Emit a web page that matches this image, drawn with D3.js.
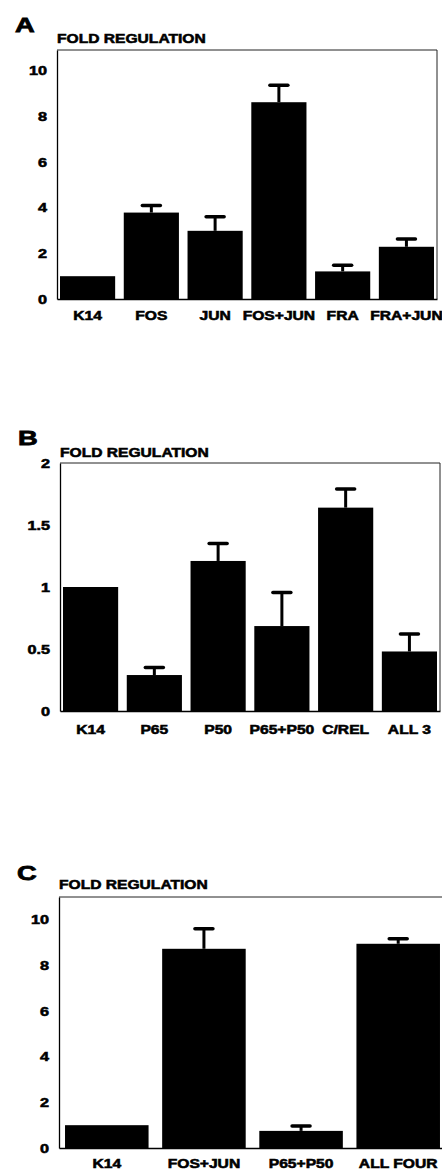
<!DOCTYPE html>
<html>
<head>
<meta charset="utf-8">
<script src="https://cdn.jsdelivr.net/npm/d3@7"></script>
<style>
  body { margin: 0; background: #fff; }
  text { font-family: "Liberation Sans", Arial, sans-serif; font-weight: bold; fill: #000;
         stroke: #000; stroke-width: 0.55px; }
</style>
</head>
<body>
<svg id="fig" width="442" height="1171"></svg>
<script>
/*---------- DATA ----------*/

// panel A: AP-1 factors
const catsA = ["K14", "FOS", "JUN", "FOS+JUN", "FRA", "FRA+JUN"];
const valsA = [1.0, 3.79, 2.99, 8.63, 1.21, 2.29];
const errA  = [0, 0.31, 0.62, 0.74, 0.27, 0.34];
const ticksA = [0, 2, 4, 6, 8, 10];

// panel B: NF-kB factors
const catsB = ["K14", "P65", "P50", "P65+P50", "C/REL", "ALL 3"];
const valsB = [1.0, 0.29, 1.21, 0.685, 1.64, 0.48];
const errB  = [0, 0.06, 0.14, 0.27, 0.15, 0.14];
const ticksB = [0, 0.5, 1, 1.5, 2];

// panel C: combinations
const catsC = ["K14", "FOS+JUN", "P65+P50", "ALL FOUR"];
const valsC = [1.0, 8.73, 0.75, 8.95];
const errC  = [0, 0.88, 0.21, 0.22];
const ticksC = [0, 2, 4, 6, 8, 10];

/*---------- LAYOUT ----------*/

const svg = d3.select("#fig");

const panels = [
  {letter: "A", cats: catsA, vals: valsA, errs: errA, ticks: ticksA, ymax: 10.92,
   left: 57, right: 437, top: 50, bottom: 299, pi: 0.135, po: 0.047,
   letterY: 32, titleY: 43, labelY: 320, frameRight: true},
  {letter: "B", cats: catsB, vals: valsB, errs: errB, ticks: ticksB, ymax: 2,
   left: 60, right: 440, top: 463, bottom: 711, pi: 0.135, po: 0.047,
   letterY: 445, titleY: 457, labelY: 734, frameRight: true},
  {letter: "C", cats: catsC, vals: valsC, errs: errC, ticks: ticksC, ymax: 11.0,
   left: 59, right: 446, top: 897, bottom: 1148, pi: 0.14, po: 0.062,
   letterY: 880, titleY: 889, labelY: 1168, frameRight: false}
];

//stretch text horizontally, the scanned font is much wider than Arial
function stretch(sel, k) {
  sel.each(function () {
    const w = this.getComputedTextLength();
    d3.select(this).attr("textLength", w * k).attr("lengthAdjust", "spacingAndGlyphs");
  });
}

function drawPanel(p) {
  const g = svg.append("g");

  const x = d3.scaleBand()
    .domain(p.cats)
    .range([p.left, p.right])
    .paddingInner(p.pi)
    .paddingOuter(p.po);

  const y = d3.scaleLinear()
    .domain([0, p.ymax])
    .range([p.bottom, p.top]);

  //panel letter + title
  g.append("text")
    .attr("x", p.left - 42)
    .attr("y", p.letterY)
    .style("font-size", "21px")
    .style("stroke-width", "0.8px")
    .text(p.letter)
    .call(stretch, 1.3);

  g.append("text")
    .attr("x", p.left)
    .attr("y", p.titleY)
    .style("font-size", "13px")
    .text("FOLD REGULATION")
    .call(stretch, 1.2);

  //frame (top + right)
  g.append("line")
    .attr("x1", p.left).attr("x2", p.right)
    .attr("y1", p.top).attr("y2", p.top)
    .attr("stroke", "#222").attr("stroke-width", 1);
  if (p.frameRight) {
    g.append("line")
      .attr("x1", p.right).attr("x2", p.right)
      .attr("y1", p.top).attr("y2", p.bottom)
      .attr("stroke", "#222").attr("stroke-width", 1);
  }

  //bars
  g.selectAll(".bar")
    .data(p.cats)
    .enter()
    .append("rect")
      .attr("class", "bar")
      .attr("x", d => x(d))
      .attr("width", x.bandwidth())
      .attr("y", (d, i) => y(p.vals[i]))
      .attr("height", (d, i) => p.bottom - y(p.vals[i]))
      .attr("fill", "#000");

  //error bars (upper only)
  const eb = g.selectAll(".err")
    .data(p.cats.filter((d, i) => p.errs[i] > 0))
    .enter()
    .append("g")
      .attr("class", "err");

  const idx = d => p.cats.indexOf(d);

  eb.append("line")
    .attr("x1", d => x(d) + x.bandwidth() / 2)
    .attr("x2", d => x(d) + x.bandwidth() / 2)
    .attr("y1", d => y(p.vals[idx(d)]))
    .attr("y2", d => y(p.vals[idx(d)] + p.errs[idx(d)]))
    .attr("stroke", "#000").attr("stroke-width", 3);

  eb.append("line")
    .attr("x1", d => x(d) + x.bandwidth() / 2 - 9)
    .attr("x2", d => x(d) + x.bandwidth() / 2 + 9)
    .attr("y1", d => y(p.vals[idx(d)] + p.errs[idx(d)]))
    .attr("y2", d => y(p.vals[idx(d)] + p.errs[idx(d)]))
    .attr("stroke", "#000").attr("stroke-width", 3.5)
    .attr("stroke-linecap", "round");

  //y axis
  const yAxis = g.append("g")
    .attr("transform", `translate(${p.left},0)`)
    .call(d3.axisLeft(y).tickValues(p.ticks).tickSize(0).tickSizeOuter(0).tickPadding(10)
      .tickFormat(d3.format("~g")));
  yAxis.select(".domain").attr("stroke", "#000").attr("stroke-width", 1.3);
  yAxis.selectAll("text")
    .attr("font-family", null).attr("font-size", null)
    .style("font-size", "12.5px")
    .call(stretch, 1.3);

  //x axis
  const xAxis = g.append("g")
    .attr("transform", `translate(0,${p.bottom})`)
    .call(d3.axisBottom(x).tickSize(0).tickSizeOuter(0));
  xAxis.select(".domain").attr("stroke", "#000").attr("stroke-width", 1.3);
  xAxis.selectAll("text")
    .attr("y", p.labelY - p.bottom)
    .attr("dy", 0)
    .style("font-size", "12.5px")
    .call(stretch, 1.25);
}

panels.forEach(drawPanel);
</script>
</body>
</html>
